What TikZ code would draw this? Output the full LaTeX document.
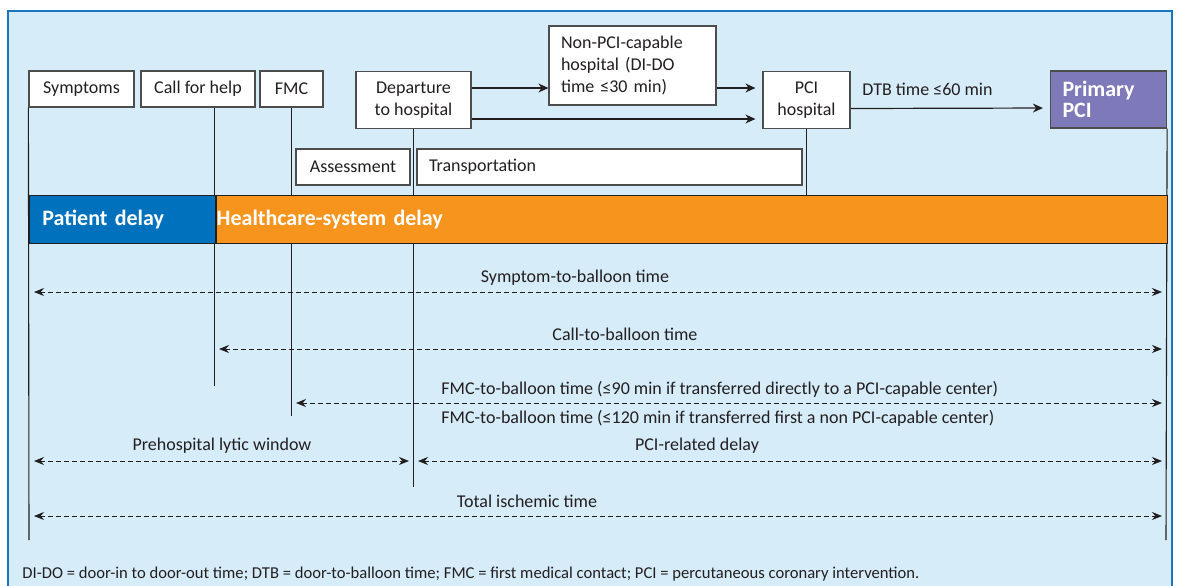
\documentclass[tikz,border=0pt]{standalone}
\usepackage{fontspec}
\setmainfont{Carlito}
\usetikzlibrary{arrows.meta}
\definecolor{panelbg}{RGB}{214,236,249}
\definecolor{frameblue}{RGB}{27,117,188}
\definecolor{barblue}{RGB}{0,113,188}
\definecolor{barorange}{RGB}{247,148,29}
\definecolor{pcipurple}{RGB}{126,121,184}
\definecolor{ink}{RGB}{35,31,32}
\definecolor{boxline}{RGB}{77,77,77}
\begin{document}
\begin{tikzpicture}[x=0.5pt, y=-0.5pt,
    box/.style={draw=boxline, fill=white, line width=0.6pt, inner sep=0pt, text=ink,
        align=center, font=\fontsize{9}{11}\selectfont},
    bar/.style={draw=ink, line width=0.4pt, inner xsep=0pt, text=white, align=left,
        minimum height=24pt, anchor=north west, font=\fontsize{11}{13}\bfseries},
    lbl/.style={inner sep=0pt, text=ink, anchor=base, font=\fontsize{9}{11}\selectfont},
    tick/.style={draw=ink, line width=0.55pt},
    flow/.style={draw=ink, line width=0.6pt, -{Stealth[length=5pt, width=4.5pt]}},
    span/.style={draw=ink, line width=0.5pt, dash pattern=on 2.4pt off 1.6pt,
        {Stealth[length=5pt, width=4pt]}-{Stealth[length=5pt, width=4pt]}}]
    \useasboundingbox (0,0) rectangle (1179,585);
    \clip (0,0) rectangle (1179,585);
    % Panel
    \draw[frameblue, line width=1.2pt, fill=panelbg] (8,11) rectangle (1172,620);

    % Events
    \node[box, minimum width=52.5pt, minimum height=18pt] (sym) at (81.5,89) {Symptoms};
    \node[box, minimum width=57pt, minimum height=18pt] (call) at (198,89) {Call for help};
    \node[box, minimum width=31.5pt, minimum height=18pt] (fmc) at (291.5,89) {FMC};
    \node[box, minimum width=57.5pt, minimum height=28.5pt] (dep) at (413.5,100) {Departure\\to hospital};
    \node[box, text width=71.5pt, inner xsep=6pt, minimum height=39.5pt, align=left] (nonpci) at (632.5,65.5)
        {Non-PCI-capable\\hospital (DI-DO\\time ≤30 min)};
    \node[box, minimum width=43.5pt, minimum height=28.5pt] (pci) at (806.5,100) {PCI\\hospital};
    \node[box, draw=boxline, fill=pcipurple, text=white, text width=46pt, inner xsep=6pt,
        minimum height=28.5pt, align=left, font=\fontsize{11}{10.5}\bfseries] (ppci) at (1108.5,99.5) {Primary\\PCI};
    \node[box, minimum width=57pt, minimum height=18pt] (assess) at (353,167) {Assessment};
    \node[box, text width=180.5pt, inner xsep=6pt, minimum height=18pt, align=left] (transp) at (609.5,167) {Transportation};

    % Transfers
    \draw[flow] ([yshift=6pt]dep.east) -- ([yshift=-11.25pt]nonpci.west);
    \draw[flow, shorten >=3.5pt] ([yshift=-11.25pt]nonpci.east) -- ([yshift=6pt]pci.west);
    \draw[flow, shorten >=3.5pt] ([yshift=-9.5pt]dep.east) -- ([yshift=-9.5pt]pci.west);
    \draw[flow, shorten >=3.5pt] ([yshift=-4.25pt]pci.east) -- ([yshift=-4.25pt]ppci.west);
    \node[lbl, anchor=base west] (dtb) at (862,95) {DTB time ≤60 min};

    % Time marks
    \coordinate (symend) at (29,540);
    \coordinate (callend) at (214.5,386);
    \coordinate (fmcend) at (291.5,416);
    \coordinate (depend) at (413.5,487);
    \coordinate (pciend) at (806.5,195);
    \coordinate (ppciend) at (1166,540);
    \draw[tick] (sym.south west) -- (symend);
    \draw[tick] ([xshift=8.25pt]call.south) -- (callend);
    \draw[tick] (fmc.south) -- (fmcend);
    \draw[tick] (dep.south) -- (depend);
    \draw[tick] (pci.south) -- (pciend);
    \draw[tick] (ppci.south east) -- (ppciend);

    % Delay bar
    \node[bar, fill=barblue, minimum width=93pt, text width=80pt, inner xsep=6.5pt] (ptdelay) at (29,195) {Patient delay};
    \node[bar, fill=barorange, minimum width=475.5pt, text width=475pt, inner xsep=0.25pt] (hcdelay) at (ptdelay.north east) {Healthcare-system delay};

    % Intervals
    \coordinate (s1) at (34,292);   \coordinate (s2) at (1162,292);
    \coordinate (c1) at (219,349);  \coordinate (c2) at (1162,349);
    \coordinate (f1) at (296,403);  \coordinate (f2) at (1162,403);
    \coordinate (p1) at (34,461);   \coordinate (p2) at (409,461);
    \coordinate (r1) at (418,461);  \coordinate (r2) at (1162,461);
    \coordinate (t1) at (34,516);   \coordinate (t2) at (1162,516);
    \draw[span] (s1) -- (s2);
    \draw[span] (c1) -- (c2);
    \draw[span] (f1) -- (f2);
    \draw[span] (p1) -- (p2);
    \draw[span] (r1) -- (r2);
    \draw[span] (t1) -- (t2);
    \node[lbl] (stb) at (575,282) {Symptom-to-balloon time};
    \node[lbl] (ctb) at (625,340) {Call-to-balloon time};
    \node[lbl, anchor=base west] (ftb1) at (441,394) {FMC-to-balloon time (≤90 min if transferred directly to a PCI-capable center)};
    \node[lbl, anchor=base west] (ftb2) at (441,423) {FMC-to-balloon time (≤120 min if transferred first a non PCI-capable center)};
    \node[lbl] (lytic) at (222,450) {Prehospital lytic window};
    \node[lbl] (pcidelay) at (697,450) {PCI-related delay};
    \node[lbl] (total) at (527,507) {Total ischemic time};

    % Abbreviations
    \node[lbl, anchor=base west, font=\fontsize{8.3}{10}\selectfont] (abbr) at (22,578)
        {DI-DO = door-in to door-out time; DTB = door-to-balloon time; FMC = first medical contact; PCI = percutaneous coronary intervention.};
\end{tikzpicture}
\end{document}
